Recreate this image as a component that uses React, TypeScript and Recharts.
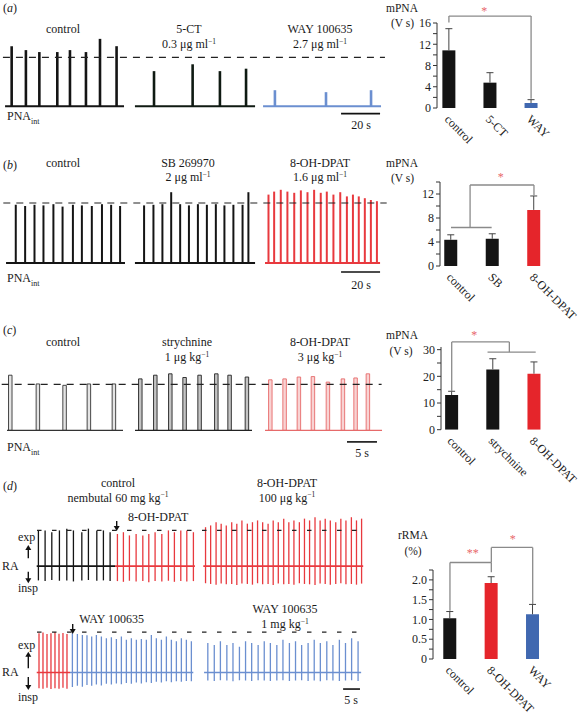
import React from "react";
import { BarChart, Bar, XAxis, YAxis, ReferenceLine, ReferenceDot, Cell } from "recharts";

const FONT = "'Liberation Serif', 'Times New Roman', serif";

// ---- trace data (burst times in s, amplitudes relative to dashed line = 1) ----
const aCtrlT = [6.0, 13.3, 20.2, 29.4, 35.9, 44.1, 51.3, 59.8];
const aCtrlAmp = [1.23, 1.15, 1.11, 1.11, 1.15, 1.11, 1.38, 1.23];
const a5ctT = [79.0, 98.8, 112.8, 126.2];
const a5ctAmp = [0.72, 0.86, 0.72, 0.77];
const aWayT = [141.0, 167.2, 190.3];
const aWayAmp = [0.33, 0.29, 0.33];
const aSpans = [[2.6, 63.6], [69.2, 130.8], [134.9, 195.4]];

const bCtrlT = [8.0, 12.8, 17.6, 22.2, 27.3, 32.0, 37.3, 41.9, 47.0, 52.2, 56.9, 61.5];
const bCtrlAmp = [0.97, 0.95, 0.97, 0.96, 0.98, 0.94, 0.97, 0.96, 0.95, 0.98, 0.97, 0.95];
const bSbT = [73.8, 78.6, 83.2, 87.7, 92.3, 96.8, 101.4, 106.0, 110.6, 115.0, 119.6, 124.3, 127.3];
const bSbAmp = [0.96, 0.97, 0.98, 1.18, 0.98, 0.96, 0.98, 0.97, 0.98, 0.96, 0.97, 0.97, 1.18];
const bDpatT = [137.6, 140.5, 143.9, 147.3, 150.8, 154.2, 157.6, 161.0, 164.4, 167.5, 170.9, 174.4, 177.8, 180.9, 183.9, 187.0, 190.1, 193.2];
const bDpatAmp = [1.14, 1.19, 1.22, 1.19, 1.17, 1.21, 1.18, 1.22, 1.17, 1.19, 1.14, 1.18, 1.11, 1.14, 1.11, 1.08, 1.05, 1.03];
const bSpans = [[3.1, 64.1], [69.2, 130.8], [135.9, 194.9]];

const cCtrlT = [1.78, 6.38, 10.83, 14.88, 19.05];
const cCtrlAmp = [1.2, 1.01, 0.98, 1.01, 1.01];
const cStrT = [23.45, 25.95, 28.45, 30.83, 33.33, 36.12, 38.33, 41.22];
const cStrAmp = [1.12, 1.2, 1.23, 1.15, 1.2, 1.23, 1.2, 1.16];
const cDpatT = [45.12, 47.5, 49.88, 52.22, 54.72, 57.22, 59.33, 61.38];
const cDpatAmp = [1.1, 1.12, 1.16, 1.17, 1.05, 1.12, 1.14, 1.23];
const cSpans = [[1.17, 20.5], [22.5, 42.0], [44.17, 63.67]];

// (d) RA traces: exp = upward peak, insp = downward trough
const dCtrlT = [2.44, 4.41, 6.38, 8.62, 10.79, 12.74, 15.21, 17.15, 19.62, 21.56, 23.53];
const dCtrlExp = [1.0, 1.0, 0.95, 1.0, 1.05, 1.0, 0.95, 1.05, 1.0, 1.0, 0.95];
const dCtrlInsp = [-0.4, -0.42, -0.39, -0.41, -0.4, -0.43, -0.4, -0.39, -0.41, -0.4, -0.42];
const dRed1T = [25.68, 27.44, 29.21, 31.18, 33.15, 34.91, 36.76, 38.74, 40.68, 42.44, 44.32, 46.09, 48.03];
const dRed1Exp = [0.9, 0.95, 0.86, 0.9, 0.86, 0.9, 0.95, 0.9, 1.0, 0.95, 1.0, 1.0, 0.95];
const dRed1Insp = [-0.42, -0.44, -0.41, -0.43, -0.42, -0.45, -0.42, -0.43, -0.41, -0.44, -0.42, -0.43, -0.42];
const dRed2T = [51.6, 53.1, 54.7, 56.2, 57.7, 59.3, 60.8, 62.3, 63.9, 65.4, 66.9, 68.4, 70.0, 71.5, 73.0, 74.6, 76.1, 77.6, 79.2, 80.7, 82.2, 83.8, 85.3, 86.8, 88.3, 89.9, 91.4, 92.9, 94.5, 96.0, 97.5];
const dRed2Exp = [1.09, 1.14, 1.23, 1.19, 1.14, 1.23, 1.19, 1.28, 1.19, 1.23, 1.28, 1.23, 1.19, 1.28, 1.23, 1.33, 1.23, 1.28, 1.23, 1.33, 1.28, 1.37, 1.28, 1.33, 1.28, 1.23, 1.33, 1.28, 1.37, 1.28, 1.33];
const dRed2Insp = [-0.48, -0.5, -0.52, -0.49, -0.51, -0.5, -0.53, -0.49, -0.5, -0.52, -0.48, -0.51, -0.5, -0.53, -0.49, -0.51, -0.5, -0.52, -0.48, -0.5, -0.51, -0.53, -0.49, -0.5, -0.52, -0.5, -0.48, -0.51, -0.5, -0.52, -0.49];
const dTopSpans = [[1.97, 25.0], [25.0, 48.5], [50.97, 98.0]];

const eRedT = [2.74, 3.91, 5.09, 6.26, 7.44, 8.62, 9.79, 10.97];
const eRedExp = [0.97, 0.99, 0.95, 0.97, 1.0, 0.96, 0.98, 0.95];
const eRedInsp = [-0.39, -0.4, -0.38, -0.41, -0.39, -0.4, -0.38, -0.4];
const eWay1T = [12.56, 14.03, 15.5, 16.85, 18.24, 19.62, 21.09, 22.56, 24.03, 25.5, 26.97, 28.44, 29.91, 31.38, 32.85, 34.32, 35.79, 37.26, 38.74, 40.21, 41.68, 43.15, 44.62, 46.09, 47.56];
const eWay1Exp = [0.97, 0.95, 0.93, 0.92, 0.89, 0.93, 0.89, 0.85, 0.87, 0.83, 0.89, 0.81, 0.85, 0.81, 0.83, 0.81, 0.93, 0.85, 0.81, 0.89, 0.81, 0.77, 0.85, 0.81, 0.77];
const eWay1Insp = [-0.36, -0.33, -0.35, -0.31, -0.33, -0.3, -0.32, -0.28, -0.3, -0.27, -0.29, -0.26, -0.28, -0.25, -0.27, -0.24, -0.26, -0.23, -0.25, -0.22, -0.24, -0.22, -0.23, -0.21, -0.22];
const eWay2T = [52.4, 54.3, 56.1, 58.0, 59.8, 61.7, 63.5, 65.3, 67.2, 69.0, 70.8, 72.7, 74.5, 76.4, 78.2, 80.0, 81.9, 83.7, 85.5, 87.4, 89.2, 91.1, 92.9, 94.7, 96.6];
const eWay2Exp = [0.73, 0.68, 0.77, 0.68, 0.73, 0.64, 0.77, 0.73, 0.68, 0.77, 0.73, 0.68, 0.81, 0.73, 0.77, 0.68, 0.73, 0.81, 0.73, 0.77, 0.68, 0.81, 0.73, 0.85, 0.77];
const eWay2Insp = [-0.2, -0.21, -0.19, -0.2, -0.22, -0.19, -0.2, -0.21, -0.19, -0.2, -0.21, -0.2, -0.19, -0.21, -0.2, -0.19, -0.21, -0.2, -0.22, -0.19, -0.2, -0.21, -0.2, -0.19, -0.21];
const dBotSpans = [[1.97, 11.76], [11.76, 48.03], [51.2, 97.4]];

// ---- bar chart data ----
const aGroups = ["control", "5-CT", "WAY"];
const aMean = [10.85, 4.77, 0.94];
const aErr = [4.08, 1.88, 0.63];
const aTicks = [0, 2, 4, 6, 8, 10, 12, 14, 16];

const bGroups = ["control", "SB", "8-OH-DPAT"];
const bMean = [4.37, 4.54, 9.35];
const bErr = [0.83, 0.83, 2.32];
const bTicks = [0, 2, 4, 6, 8, 10, 12, 14];

const cGroups = ["control", "strychnine", "8-OH-DPAT"];
const cMean = [13.0, 22.6, 21.0];
const cErr = [1.4, 4.0, 4.4];
const cTicks = [0, 5, 10, 15, 20, 25, 30];

const dGroups = ["control", "8-OH-DPAT", "WAY"];
const dMean = [1.03, 1.92, 1.13];
const dErr = [0.17, 0.16, 0.25];
const dTicks = [0, 0.25, 0.5, 0.75, 1.0, 1.25, 1.5, 1.75, 2.0, 2.25];

const BLACK = "#141414";
const RED = "#e5252b";
const BLUE = "#4068b0";
const TRACE_RED = "#e8393e";
const TRACE_BLUE = "#6b8fd0";

type Seg = { span: number[]; t: number[]; amp: number[]; color: string; fill?: string };

function TraceRow({ left, top, width, height, xDomain, yDomain, segs, barSize, dashSpan, dash, scaleBar, scaleY, baseWidth = 2 }: any) {
  const data = (segs as Seg[]).flatMap((s, si) => s.t.map((t, i) => ({ t, amp: s.amp[i], seg: si })));
  return (
    <div style={{ position: "absolute", left, top }}>
      <BarChart width={width} height={height} data={data} margin={{ top: 0, right: 0, bottom: 0, left: 0 }}>
        <XAxis type="number" dataKey="t" domain={xDomain} hide allowDataOverflow />
        <YAxis type="number" domain={yDomain} hide allowDataOverflow />
        <ReferenceLine segment={[{ x: dashSpan[0], y: 1 }, { x: dashSpan[1], y: 1 }]} stroke="#222" strokeWidth={1.2} strokeDasharray={dash} />
        {(segs as Seg[]).map((s, i) => (
          <ReferenceLine key={i} segment={[{ x: s.span[0], y: 0 }, { x: s.span[1], y: 0 }]} stroke={s.color} strokeWidth={baseWidth} />
        ))}
        <Bar dataKey="amp" barSize={barSize} isAnimationActive={false}>
          {data.map((d, i) => (
            <Cell key={i} fill={segs[d.seg].fill ?? segs[d.seg].color} stroke={segs[d.seg].color} strokeWidth={segs[d.seg].fill ? 0.9 : 0} />
          ))}
        </Bar>
        {scaleBar && (
          <ReferenceLine segment={[{ x: scaleBar[0], y: scaleY }, { x: scaleBar[1], y: scaleY }]} stroke="#111" strokeWidth={1.6} />
        )}
      </BarChart>
    </div>
  );
}

type RaSeg = { span: number[]; t: number[]; exp: number[]; insp: number[]; color: string };

function RaRow({ left, top, width, height, yDomain, segs, dashSpan, scaleBar, scaleY }: any) {
  const data = (segs as RaSeg[]).flatMap((s, si) => s.t.map((t, i) => ({ t, exp: s.exp[i], insp: s.insp[i], seg: si })));
  return (
    <div style={{ position: "absolute", left, top }}>
      <BarChart width={width} height={height} data={data} stackOffset="sign" margin={{ top: 0, right: 0, bottom: 0, left: 0 }}>
        <XAxis type="number" dataKey="t" domain={[0, 100]} hide allowDataOverflow />
        <YAxis type="number" domain={yDomain} hide allowDataOverflow />
        <ReferenceLine segment={[{ x: dashSpan[0], y: 1 }, { x: dashSpan[1], y: 1 }]} stroke="#222" strokeWidth={1.2} strokeDasharray="4.5 10.5" />
        {(segs as RaSeg[]).map((s, i) => (
          <ReferenceLine key={i} segment={[{ x: s.span[0], y: 0 }, { x: s.span[1], y: 0 }]} stroke={s.color} strokeWidth={1.6} />
        ))}
        <Bar dataKey="exp" stackId="r" barSize={1.3} isAnimationActive={false}>
          {data.map((d, i) => <Cell key={i} fill={segs[d.seg].color} />)}
        </Bar>
        <Bar dataKey="insp" stackId="r" barSize={1.3} isAnimationActive={false}>
          {data.map((d, i) => <Cell key={i} fill={segs[d.seg].color} />)}
        </Bar>
        {scaleBar && (
          <ReferenceLine segment={[{ x: scaleBar[0], y: scaleY }, { x: scaleBar[1], y: scaleY }]} stroke="#111" strokeWidth={1.6} />
        )}
      </BarChart>
    </div>
  );
}

const ErrShape = (p: any) => {
  const { x, y, width, height } = p;
  const cx = x + width / 2;
  return (
    <g>
      <line x1={cx} x2={cx} y1={y} y2={y + height} stroke="#444" strokeWidth={1} />
      <line x1={cx - 3.5} x2={cx + 3.5} y1={y} y2={y} stroke="#444" strokeWidth={1} />
    </g>
  );
};

function StatBars({ axisX, plotTop, plotW, plotH, mt, xDomain, yDomain, ticks, fmt, names, mean, err, colors, brackets, stars }: any) {
  const YW = 34;
  const width = 580 - (axisX - YW);
  const height = mt + plotH + 70;
  const data = mean.map((m: number, i: number) => ({ x: i, mean: m, err: err[i] }));
  const AngledTick = (p: any) => {
    const tx = p.x - 5;
    const ty = p.y + 12;
    return (
      <text x={tx} y={ty} transform={`rotate(45 ${tx} ${ty})`} textAnchor="start" fontSize={12} fontFamily={FONT} fill="#222">
        {names[p.payload.value]}
      </text>
    );
  };
  return (
    <div style={{ position: "absolute", left: axisX - YW, top: plotTop - mt }}>
      <BarChart width={width} height={height} data={data} margin={{ top: mt, right: width - YW - plotW, bottom: 0, left: 0 }}>
        <XAxis type="number" dataKey="x" domain={xDomain} ticks={[0, 1, 2]} interval={0} axisLine={false} tickLine={false} tickSize={0} tickMargin={0} height={70} tick={<AngledTick />} allowDataOverflow />
        <YAxis
          type="number"
          domain={yDomain}
          ticks={ticks}
          interval={0}
          width={YW}
          allowDataOverflow
          tickSize={4}
          tickMargin={2}
          stroke="#333"
          tick={{ fontSize: 12, fontFamily: FONT, fill: "#222" }}
          tickFormatter={fmt}
        />
        <Bar dataKey="mean" stackId="s" barSize={13} isAnimationActive={false}>
          {data.map((d: any, i: number) => <Cell key={i} fill={colors[i]} />)}
        </Bar>
        <Bar dataKey="err" stackId="s" barSize={13} isAnimationActive={false} shape={<ErrShape />} />
        {brackets.map((pts: number[][], bi: number) =>
          pts.slice(1).map((p, i) => (
            <ReferenceLine
              key={`${bi}-${i}`}
              segment={[{ x: pts[i][0], y: pts[i][1] }, { x: p[0], y: p[1] }]}
              stroke="#8a8a8a"
              strokeWidth={1.3}
              ifOverflow="visible"
            />
          ))
        )}
        {stars.map((s: any, i: number) => (
          <ReferenceDot
            key={i}
            x={s.x}
            y={s.y}
            r={0.1}
            fill="none"
            stroke="none"
            ifOverflow="visible"
            label={{ value: s.text, position: "center", fill: "#e8676b", fontSize: 12, fontFamily: FONT }}
          />
        ))}
      </BarChart>
    </div>
  );
}

const Txt = ({ x, y, a = "middle", s = 12, children, italic }: any) => (
  <text x={x} y={y} textAnchor={a} dominantBaseline="central" fontSize={s} fontFamily={FONT} fill="#1a1a1a" fontStyle={italic ? "italic" : undefined}>
    {children}
  </text>
);
const Sup = ({ children }: any) => (
  <tspan dy={-3.5} fontSize={7.5}>
    {children}
  </tspan>
);
const Letter = ({ y, l }: any) => (
  <text x={3} y={y} dominantBaseline="central" fontSize={12} fontFamily={FONT} fill="#1a1a1a">
    (<tspan fontStyle="italic">{l}</tspan>)
  </text>
);
const Pna = ({ y }: any) => (
  <text x={7} y={y} dominantBaseline="central" fontSize={12} fontFamily={FONT} fill="#1a1a1a">
    PNA<tspan dy={5} fontSize={8}>int</tspan>
  </text>
);
const Arrow = ({ x, y1, y2 }: any) => {
  const dir = y2 > y1 ? 1 : -1;
  return (
    <g>
      <line x1={x} x2={x} y1={y1} y2={y2 - dir * 4} stroke="#111" strokeWidth={1.4} />
      <polygon points={`${x - 3},${y2 - dir * 5} ${x + 3},${y2 - dir * 5} ${x},${y2}`} fill="#111" />
    </g>
  );
};

export default function App() {
  const aSegs: Seg[] = [
    { span: aSpans[0], t: aCtrlT, amp: aCtrlAmp, color: BLACK },
    { span: aSpans[1], t: a5ctT, amp: a5ctAmp, color: "#0f1a12" },
    { span: aSpans[2], t: aWayT, amp: aWayAmp, color: TRACE_BLUE },
  ];
  const bSegs: Seg[] = [
    { span: bSpans[0], t: bCtrlT, amp: bCtrlAmp, color: BLACK },
    { span: bSpans[1], t: bSbT, amp: bSbAmp, color: BLACK },
    { span: bSpans[2], t: bDpatT, amp: bDpatAmp, color: TRACE_RED },
  ];
  const cSegs: Seg[] = [
    { span: cSpans[0], t: cCtrlT, amp: cCtrlAmp, color: "#333", fill: "#e4e4e4" },
    { span: cSpans[1], t: cStrT, amp: cStrAmp, color: "#222", fill: "#c4c4c4" },
    { span: cSpans[2], t: cDpatT, amp: cDpatAmp, color: "#e66a6a", fill: "#f8d3d3" },
  ];
  const dTop: RaSeg[] = [
    { span: dTopSpans[0], t: dCtrlT, exp: dCtrlExp, insp: dCtrlInsp, color: BLACK },
    { span: dTopSpans[1], t: dRed1T, exp: dRed1Exp, insp: dRed1Insp, color: TRACE_RED },
    { span: dTopSpans[2], t: dRed2T, exp: dRed2Exp, insp: dRed2Insp, color: TRACE_RED },
  ];
  const dBot: RaSeg[] = [
    { span: dBotSpans[0], t: eRedT, exp: eRedExp, insp: eRedInsp, color: TRACE_RED },
    { span: dBotSpans[1], t: eWay1T, exp: eWay1Exp, insp: eWay1Insp, color: TRACE_BLUE },
    { span: dBotSpans[2], t: eWay2T, exp: eWay2Exp, insp: eWay2Insp, color: TRACE_BLUE },
  ];

  return (
    <div style={{ position: "absolute", left: 0, top: 0, width: 580, height: 716, background: "#fff", overflow: "hidden" }}>
      <TraceRow left={0} top={33} width={390} height={88} xDomain={[0, 200]} yDomain={[-0.3, 1.5]} segs={aSegs} barSize={2.6} dashSpan={[1.5, 197.4]} dash="7 6" scaleBar={[174.9, 194.9]} scaleY={-0.15} />
      <TraceRow left={0} top={179.3} width={390} height={99} xDomain={[0, 200]} yDomain={[-0.25, 1.4]} segs={bSegs} barSize={2} dashSpan={[1.7, 198.3]} dash="7 6" scaleBar={[174.9, 194.9]} scaleY={-0.15} />
      <TraceRow left={0} top={365.6} width={390} height={80.5} xDomain={[0, 65]} yDomain={[-0.35, 1.4]} segs={cSegs} barSize={3.5} dashSpan={[0.28, 63.6]} dash="7 6" scaleBar={[57.83, 62.83]} scaleY={-0.25} baseWidth={1.3} />
      <RaRow left={30} top={508.6} width={340} height={82.1} yDomain={[-0.7, 1.6]} segs={dTop} dashSpan={[2.06, 97.94]} />
      <RaRow left={30} top={624.2} width={340} height={68.7} yDomain={[-0.5, 1.2]} segs={dBot} dashSpan={[2.06, 97.6]} scaleBar={[92.1, 97.06]} scaleY={-0.41} />

      <StatBars axisX={437} plotTop={22.7} plotW={106} plotH={85} mt={20} xDomain={[-0.29, 2.29]} yDomain={[0, 16]} ticks={aTicks}
        fmt={(v: number) => (v % 4 === 0 ? String(v) : "")} names={aGroups} mean={aMean} err={aErr} colors={[BLACK, BLACK, BLUE]}
        brackets={[[[0, 16.1], [0, 17.3], [2, 17.3], [2, 1.75]]]} stars={[{ x: 0.86, y: 18.3, text: "*" }]} />
      <StatBars axisX={440} plotTop={182.3} plotW={106} plotH={84} mt={20} xDomain={[-0.265, 2.29]} yDomain={[0, 14]} ticks={bTicks}
        fmt={(v: number) => (v % 4 === 0 ? String(v) : "")} names={bGroups} mean={bMean} err={bErr} colors={[BLACK, BLACK, RED]}
        brackets={[[[0, 6.42], [0.98, 6.42]], [[0.46, 6.42], [0.46, 13.5], [2, 13.5], [2, 11.73]]]} stars={[{ x: 1.2, y: 14.8, text: "*" }]} />
      <StatBars axisX={441} plotTop={346.6} plotW={105} plotH={82.7} mt={20} xDomain={[-0.26, 2.29]} yDomain={[0, 31]} ticks={cTicks}
        fmt={(v: number) => (v % 10 === 0 ? String(v) : "")} names={cGroups} mean={cMean} err={cErr} colors={[BLACK, BLACK, RED]}
        brackets={[[[0, 14.4], [0, 32.9], [1.4, 32.9], [1.4, 29.1]], [[0.87, 29.1], [2.04, 29.1]]]} stars={[{ x: 0.55, y: 35.6, text: "*" }]} />
      <StatBars axisX={433} plotTop={570} plotW={111.7} plotH={89} mt={40} xDomain={[-0.41, 2.29]} yDomain={[0, 2.25]} ticks={dTicks}
        fmt={(v: number) => (v === 0 ? "0" : v % 0.5 === 0 ? v.toFixed(1) : "")} names={dGroups} mean={dMean} err={dErr} colors={[BLACK, RED, BLUE]}
        brackets={[[[0, 1.22], [0, 2.44], [1, 2.44], [1, 2.19]], [[1, 2.44], [1, 2.82], [2, 2.82], [2, 1.39]]]}
        stars={[{ x: 0.55, y: 2.68, text: "**" }, { x: 1.52, y: 3.03, text: "*" }]} />

      <svg width={580} height={716} style={{ position: "absolute", left: 0, top: 0, pointerEvents: "none" }}>
        {/* (a) */}
        <Letter y={8.3} l="a" />
        <Txt x={63} y={29}>control</Txt>
        <Txt x={189} y={29}>5-CT</Txt>
        <Txt x={189} y={44}>0.3 μg ml<Sup>−1</Sup></Txt>
        <Txt x={320} y={29}>WAY 100635</Txt>
        <Txt x={320} y={44}>2.7 μg ml<Sup>−1</Sup></Txt>
        <Pna y={116} />
        <Txt x={361} y={125}>20 s</Txt>
        <Txt x={402} y={7.5} s={11.5}>mPNA</Txt>
        <Txt x={402.5} y={22.7} s={11.5}>(V s)</Txt>

        {/* (b) */}
        <Letter y={165} l="b" />
        <Txt x={63} y={162.5}>control</Txt>
        <Txt x={188} y={162.5}>SB 269970</Txt>
        <Txt x={188} y={177}>2 μg ml<Sup>−1</Sup></Txt>
        <Txt x={320} y={162.5}>8-OH-DPAT</Txt>
        <Txt x={320} y={177}>1.6 μg ml<Sup>−1</Sup></Txt>
        <Pna y={278} />
        <Txt x={361} y={285}>20 s</Txt>
        <Txt x={402} y={163.3} s={11.5}>mPNA</Txt>
        <Txt x={402.5} y={177.5} s={11.5}>(V s)</Txt>

        {/* (c) */}
        <Letter y={330} l="c" />
        <Txt x={63} y={342}>control</Txt>
        <Txt x={187} y={342}>strychnine</Txt>
        <Txt x={187} y={357}>1 μg kg<Sup>−1</Sup></Txt>
        <Txt x={320} y={342}>8-OH-DPAT</Txt>
        <Txt x={320} y={357}>3 μg kg<Sup>−1</Sup></Txt>
        <Pna y={446.7} />
        <Txt x={362} y={452.7}>5 s</Txt>
        <Txt x={402} y={335} s={11.5}>mPNA</Txt>
        <Txt x={401} y={350.7} s={11.5}>(V s)</Txt>

        {/* (d) */}
        <Letter y={486} l="d" />
        <Txt x={118} y={483}>control</Txt>
        <Txt x={118} y={497.5}>nembutal 60 mg kg<Sup>−1</Sup></Txt>
        <Txt x={287} y={483}>8-OH-DPAT</Txt>
        <Txt x={287} y={497.5}>100 μg kg<Sup>−1</Sup></Txt>
        <Txt x={128} y={516.7} a="start">8-OH-DPAT</Txt>
        <Arrow x={116.7} y1={521} y2={531} />
        <Txt x={18} y={537.3} a="start">exp</Txt>
        <Arrow x={28.3} y1={558.3} y2={545} />
        <Txt x={2} y={566} a="start">RA</Txt>
        <Arrow x={28.3} y1={571.7} y2={583.3} />
        <Txt x={18} y={588} a="start">insp</Txt>

        <Txt x={79.3} y={619.3} a="start">WAY 100635</Txt>
        <Arrow x={72.7} y1={624} y2={634} />
        <Txt x={285} y={609.3}>WAY 100635</Txt>
        <Txt x={285} y={624}>1 mg kg<Sup>−1</Sup></Txt>
        <Txt x={18} y={645} a="start">exp</Txt>
        <Arrow x={28.3} y1={668.3} y2={651.7} />
        <Txt x={2} y={671.7} a="start">RA</Txt>
        <Arrow x={28.3} y1={677} y2={690} />
        <Txt x={18} y={697.3} a="start">insp</Txt>
        <Txt x={351} y={700}>5 s</Txt>
        <Txt x={413} y={535} s={11.5}>rRMA</Txt>
        <Txt x={413} y={550.7} s={11.5}>(%)</Txt>
      </svg>
    </div>
  );
}
